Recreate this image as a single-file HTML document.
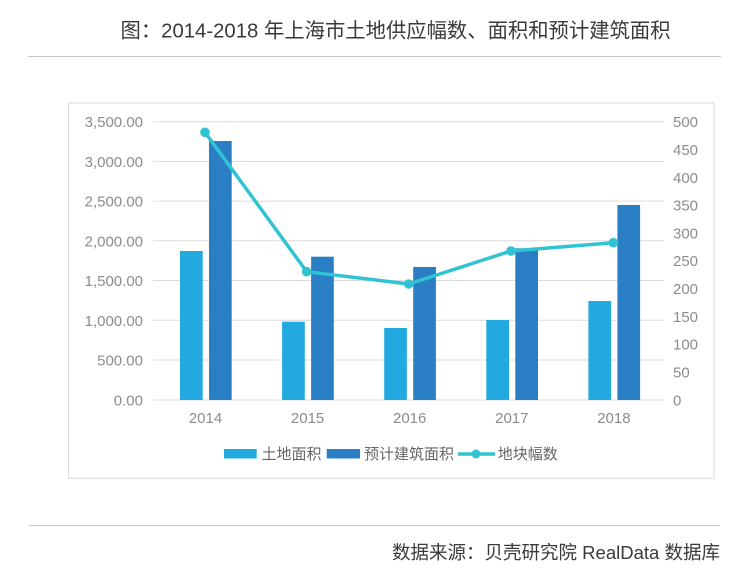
<!DOCTYPE html>
<html>
<head>
<meta charset="utf-8">
<style>
  html,body{margin:0;padding:0;background:#fff;}
  body{width:742px;height:572px;overflow:hidden;}
  svg{display:block;}
  text{font-family:"Liberation Sans","Noto Sans CJK SC",sans-serif;}
</style>
</head>
<body>
<svg width="742" height="572" viewBox="0 0 742 572" xmlns="http://www.w3.org/2000/svg">
  <rect x="0" y="0" width="742" height="572" fill="#ffffff"/>
  <!-- Title -->
  <text x="120.5" y="37.5" font-size="20.5" fill="#3a3a3a" textLength="550" lengthAdjust="spacingAndGlyphs">图：2014-2018 年上海市土地供应幅数、面积和预计建筑面积</text>
  <line x1="28" y1="56.5" x2="721" y2="56.5" stroke="#c6c6c6" stroke-width="1"/>

  <!-- Chart box -->
  <rect x="68.5" y="103" width="645.5" height="375.3" fill="#ffffff" stroke="#dadada" stroke-width="1"/>

  <!-- Gridlines -->
  <g stroke="#dcdcdc" stroke-width="1">
    <line x1="153" y1="121.7" x2="664" y2="121.7"/>
    <line x1="153" y1="161.4" x2="664" y2="161.4"/>
    <line x1="153" y1="201.1" x2="664" y2="201.1"/>
    <line x1="153" y1="240.8" x2="664" y2="240.8"/>
    <line x1="153" y1="280.5" x2="664" y2="280.5"/>
    <line x1="153" y1="320.3" x2="664" y2="320.3"/>
    <line x1="153" y1="360.0" x2="664" y2="360.0"/>
    <line x1="153" y1="400.0" x2="664" y2="400.0"/>
  </g>

  <!-- Left axis labels -->
  <g font-size="15" fill="#8c8c8c" text-anchor="end">
    <text x="143" y="127.2">3,500.00</text>
    <text x="143" y="166.9">3,000.00</text>
    <text x="143" y="206.6">2,500.00</text>
    <text x="143" y="246.3">2,000.00</text>
    <text x="143" y="286.0">1,500.00</text>
    <text x="143" y="325.8">1,000.00</text>
    <text x="143" y="365.5">500.00</text>
    <text x="143" y="405.3">0.00</text>
  </g>

  <!-- Right axis labels -->
  <g font-size="15" fill="#8c8c8c" text-anchor="start">
    <text x="673" y="127.2">500</text>
    <text x="673" y="155.0">450</text>
    <text x="673" y="182.8">400</text>
    <text x="673" y="210.6">350</text>
    <text x="673" y="238.4">300</text>
    <text x="673" y="266.2">250</text>
    <text x="673" y="294.0">200</text>
    <text x="673" y="321.8">150</text>
    <text x="673" y="349.6">100</text>
    <text x="673" y="377.4">50</text>
    <text x="673" y="405.3">0</text>
  </g>

  <!-- Light bars -->
  <g fill="#22aae0">
    <rect x="180" y="251.0" width="22.7" height="149.0"/>
    <rect x="282.1" y="321.7" width="22.7" height="78.3"/>
    <rect x="384.2" y="328.0" width="22.7" height="72.0"/>
    <rect x="486.3" y="320.0" width="22.7" height="80.0"/>
    <rect x="588.4" y="301.0" width="22.7" height="99.0"/>
  </g>
  <!-- Dark bars -->
  <g fill="#2a7fc4">
    <rect x="209" y="141.0" width="22.7" height="259.0"/>
    <rect x="311.1" y="256.7" width="22.7" height="143.3"/>
    <rect x="413.2" y="267.0" width="22.7" height="133.0"/>
    <rect x="515.3" y="248.3" width="22.7" height="151.7"/>
    <rect x="617.4" y="205.0" width="22.7" height="195.0"/>
  </g>

  <!-- Line series -->
  <polyline points="205,132.3 306.7,271.7 408.7,284 511,251 613.3,242.7" fill="none" stroke="#30c4d2" stroke-width="3.5" stroke-linejoin="round"/>
  <g fill="#30c4d2">
    <circle cx="205" cy="132.3" r="4.8"/>
    <circle cx="306.7" cy="271.7" r="4.8"/>
    <circle cx="408.7" cy="284" r="4.8"/>
    <circle cx="511" cy="251" r="4.8"/>
    <circle cx="613.3" cy="242.7" r="4.8"/>
  </g>

  <!-- X axis labels -->
  <g font-size="15" fill="#8c8c8c" text-anchor="middle">
    <text x="205.5" y="423">2014</text>
    <text x="307.6" y="423">2015</text>
    <text x="409.7" y="423">2016</text>
    <text x="511.8" y="423">2017</text>
    <text x="613.9" y="423">2018</text>
  </g>

  <!-- Legend -->
  <rect x="224" y="449" width="32.7" height="9.5" fill="#22aae0"/>
  <text x="261.5" y="459" font-size="15" fill="#666">土地面积</text>
  <rect x="326.7" y="449" width="33.3" height="9.5" fill="#2a7fc4"/>
  <text x="364" y="459" font-size="15" fill="#666">预计建筑面积</text>
  <line x1="458" y1="454" x2="495" y2="454" stroke="#30c4d2" stroke-width="3.5"/>
  <circle cx="476" cy="454" r="4.5" fill="#30c4d2"/>
  <text x="497.7" y="459" font-size="15" fill="#666">地块幅数</text>

  <!-- Footer -->
  <line x1="28.5" y1="525.5" x2="720" y2="525.5" stroke="#c6c6c6" stroke-width="1"/>
  <text x="392" y="558.8" font-size="18.5" fill="#3a3a3a" textLength="328" lengthAdjust="spacingAndGlyphs">数据来源：贝壳研究院 RealData 数据库</text>
</svg>
</body>
</html>
